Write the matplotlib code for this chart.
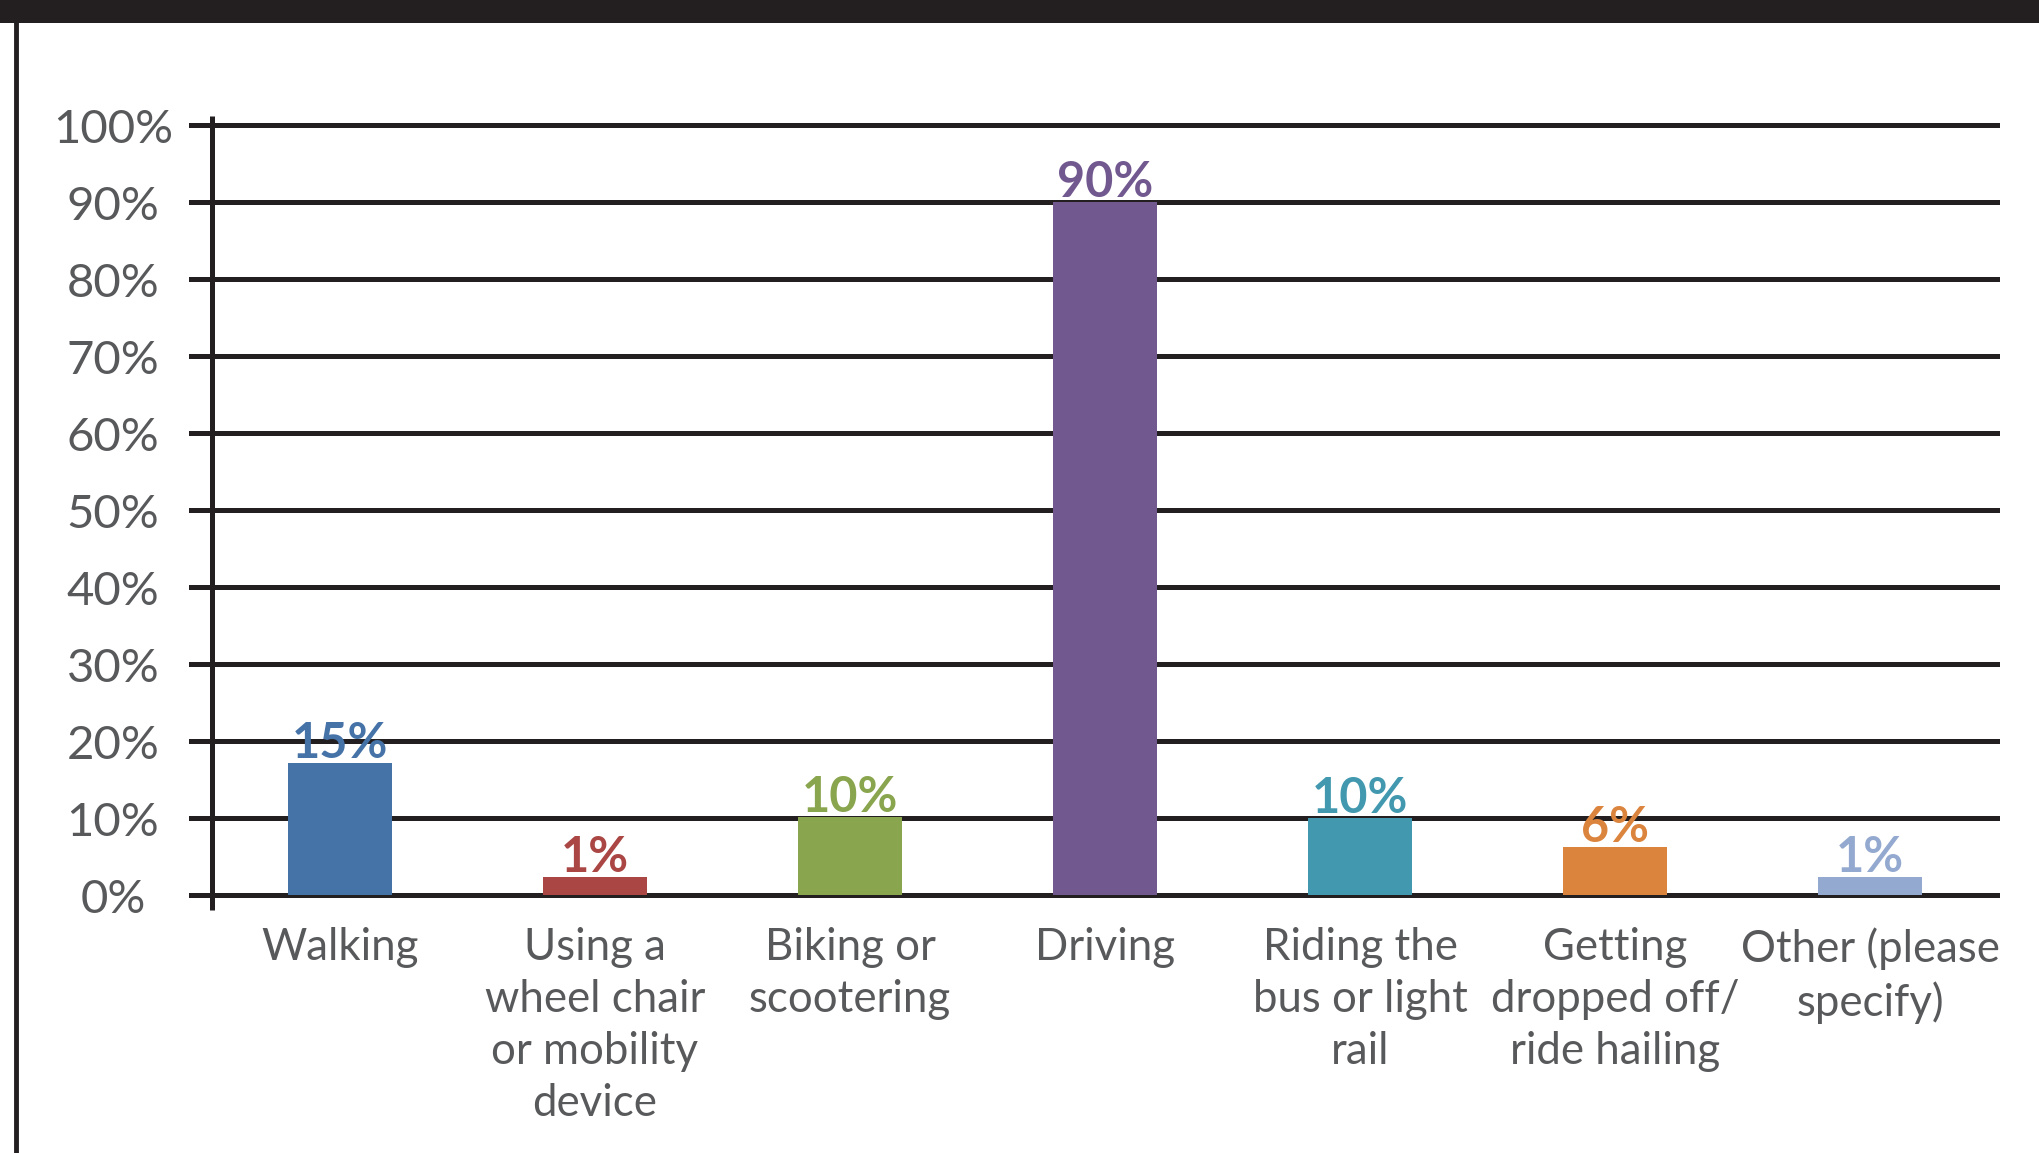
import matplotlib
matplotlib.use("Agg")
import matplotlib.pyplot as plt
from matplotlib.patches import Rectangle
from matplotlib.lines import Line2D

categories = ["Walking", "Using a\nwheel chair\nor mobility\ndevice", "Biking or\nscootering",
              "Driving", "Riding the\nbus or light\nrail", "Getting\ndropped off/\nride hailing",
              "Other (please\nspecify)"]
heights = [17.2, 2.4, 10.1, 90.0, 10.0, 6.2, 2.4]
value_labels = ["15%", "1%", "10%", "90%", "10%", "6%", "1%"]
bar_colors = ["#4572A7", "#AA4643", "#89A54E", "#71588F", "#4198AF", "#DB843D", "#93A9CF"]
yticks = [0, 10, 20, 30, 40, 50, 60, 70, 80, 90, 100]
ytick_labels = [f"{v}%" for v in yticks]

FONT = "Lato"
DARK = "#231F20"
GRAY = "#58595B"

W, H = 2040, 1153
fig = plt.figure(figsize=(W / 100, H / 100), dpi=100)
fig.patch.set_facecolor("white")

# frame pieces: black band on top and a line down the left side
fig.patches.append(Rectangle((0, 1 - 23 / H), 1, 23 / H, transform=fig.transFigure,
                             facecolor=DARK, edgecolor="none"))
fig.lines.append(Line2D([16 / W, 16 / W], [0, 1 - 23 / H], transform=fig.transFigure,
                        color=DARK, lw=3.5))

left, right, bottom, top = 191, 1997, 895, 125
ax = fig.add_axes([left / W, (H - bottom) / H, (right - left) / W, (bottom - top) / H])
ax.set_xlim(-0.584, 6.498)
ax.set_ylim(0, 100)
ax.axis("off")

for v in yticks:
    ax.axhline(v, color=DARK, lw=3.6, clip_on=False, zorder=1)
ax.plot([-0.5, -0.5], [-1.95, 101.2], color=DARK, lw=3.6, clip_on=False, zorder=3,
        solid_capstyle="butt")

x = list(range(len(categories)))
ax.bar(x, heights, width=0.408, color=bar_colors, zorder=2)

for i, (h, lab, c) in enumerate(zip(heights, value_labels, bar_colors)):
    ax.text(i, h - 0.4, lab, ha="center", va="bottom", color=c, fontsize=35,
            fontweight="bold", family=FONT, zorder=4)

for i, cat in enumerate(categories):
    ax.text(i, -4.2, cat, ha="center", va="top", color=GRAY, fontsize=31.5,
            family=FONT, linespacing=1.33)

for v, lab in zip(yticks, ytick_labels):
    ax.text(-(340 - 113) / 255, v - 0.6, lab, ha="center", va="center", color=GRAY,
            fontsize=34, family=FONT)

fig.savefig("out.png", dpi=100)
